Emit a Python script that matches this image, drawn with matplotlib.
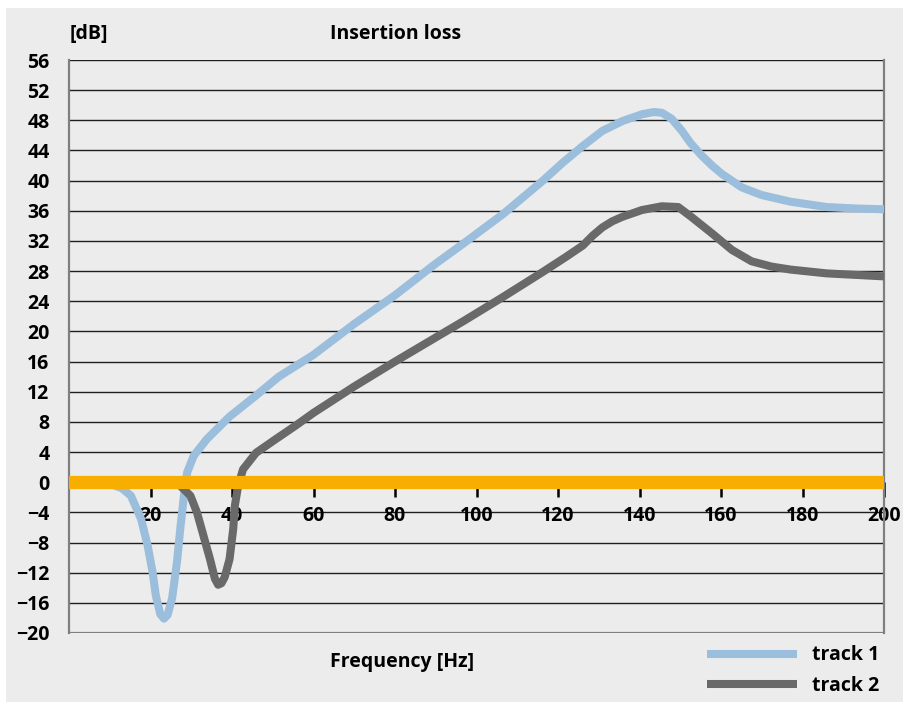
import matplotlib.pyplot as plt
from matplotlib.patches import Rectangle

# track 1 (light blue): frequency [Hz], insertion loss [dB]
freq_1 = [5, 10, 13, 15.2, 17.7, 19.3, 20.5, 21.3, 22.4, 23.3, 24.2, 25.3, 26.5,
          27.3, 28.2, 29.0, 30.6, 33.8, 39.4, 45.9, 51.5, 60, 70, 80, 90, 96.9,
          106.6, 116.3, 121.2, 126.1, 130.9, 135.8, 140.6, 143.5, 145.5, 147.9,
          150.4, 152.5, 155.3, 157.8, 160.2, 165.1, 169.9, 177.1, 185.9, 193.3,
          200]
loss_1 = [0, -0.2, -0.8, -1.8, -4.9, -8.4, -11.9, -15.0, -17.5, -18.1, -17.6,
          -15.4, -10.6, -6.2, -1.8, 1.3, 3.5, 5.7, 8.7, 11.5, 14.0, 16.9, 21.0,
          24.8, 29.0, 31.7, 35.6, 40.0, 42.4, 44.6, 46.6, 47.9, 48.8, 49.1, 49.0,
          48.2, 46.6, 45.0, 43.3, 42.0, 40.9, 39.1, 38.1, 37.2, 36.5, 36.3, 36.2]

# track 2 (dark grey)
freq_2 = [5, 20, 27, 29.8, 31.4, 33.0, 34.6, 35.8, 36.6, 37.4, 38.2, 39.4, 40.3,
          40.7, 41.5, 42.7, 45.9, 50.7, 55.6, 60, 70, 80, 90, 96.9, 106.6, 116.3,
          122, 126.1, 128.5, 130.9, 133.3, 135.8, 140.6, 145.5, 149.5, 152.7,
          157.8, 162.7, 167.5, 172.4, 177.1, 185.9, 200]
loss_2 = [0, 0, -0.3, -1.8, -4.0, -7.1, -10.2, -12.8, -13.6, -13.4, -12.6, -10.2,
          -6.2, -3.1, -0.5, 1.7, 3.9, 5.7, 7.5, 9.2, 12.7, 16.0, 19.2, 21.4, 24.6,
          27.9, 29.9, 31.4, 32.7, 33.8, 34.6, 35.2, 36.1, 36.6, 36.5, 35.2, 33.0,
          30.8, 29.3, 28.6, 28.2, 27.7, 27.3]

x_ticks = [20, 40, 60, 80, 100, 120, 140, 160, 180, 200]
y_ticks = list(range(-20, 57, 4))

BG = "#ebeceb"
BLUE = "#9bbedd"
GREY = "#696969"
ORANGE = "#f8ae00"
FRAME = "#7f7f7f"
FS = 14

plt.rcParams["font.family"] = ["Open Sans", "DejaVu Sans"]
plt.rcParams["font.weight"] = "bold"

fig = plt.figure(figsize=(9.04, 7.02), dpi=100, facecolor="white")
fig.patches.append(Rectangle((6 / 904, 0), 898 / 904, 694 / 702,
                             transform=fig.transFigure, facecolor=BG,
                             edgecolor="none", zorder=-10))

ax = fig.add_axes([69 / 904, 1 - 633 / 702, 815 / 904, 573 / 702])
ax.set_facecolor(BG)
ax.set_xlim(0, 200)
ax.set_ylim(-20, 56)

for v in y_ticks:
    if v in (-20, 0):
        continue
    ax.axhline(v, color="#1e1e1e", lw=1.0, zorder=1)
ax.axhline(-20, color=FRAME, lw=1.6, zorder=1)

ax.plot(freq_1, loss_1, color=BLUE, lw=5.8, solid_capstyle="butt",
        solid_joinstyle="round", zorder=3, label="track 1")
ax.plot(freq_2, loss_2, color=GREY, lw=5.8, solid_capstyle="butt",
        solid_joinstyle="round", zorder=3, label="track 2")
ax.axhline(0, color=ORANGE, lw=9.5, zorder=4)

for side in ("left", "right"):
    ax.spines[side].set_color(FRAME)
    ax.spines[side].set_linewidth(1.6)
ax.spines["top"].set_visible(False)
ax.spines["bottom"].set_position(("data", 0))
ax.spines["bottom"].set_visible(False)

ax.set_xticks(x_ticks)
ax.set_xticklabels([str(t) for t in x_ticks])
ax.set_yticks(y_ticks)
ax.tick_params(axis="x", direction="out", length=11, width=1.8, color="black",
               pad=6, labelsize=FS)
ax.tick_params(axis="y", length=0, pad=14, labelsize=FS)
for lab in ax.get_xticklabels() + ax.get_yticklabels():
    lab.set_fontweight("bold")

fig.text(70 / 904, 1 - 34 / 702, "[dB]", fontsize=FS, fontweight="bold",
         ha="left", va="center")
fig.text(330 / 904, 1 - 34 / 702, "Insertion loss", fontsize=FS,
         fontweight="bold", ha="left", va="center")
fig.text(330 / 904, 1 - 662 / 702, "Frequency [Hz]", fontsize=FS,
         fontweight="bold", ha="left", va="center")

fig.legend(loc="upper left", bbox_to_anchor=(690 / 904, 1 - 628 / 702),
           frameon=False, handlelength=4.6, handletextpad=0.75,
           labelspacing=0.55, prop={"size": FS, "weight": "bold"})

fig.savefig("out.png", dpi=100, facecolor=fig.get_facecolor())
